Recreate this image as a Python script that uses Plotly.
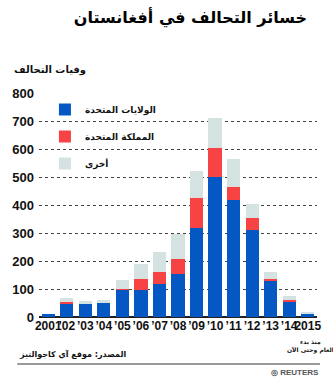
import plotly.graph_objects as go

years = ["2001", "’02", "’03", "’04", "’05", "’06", "’07", "’08", "’09", "’10", "’11", "’12", "’13", "’14", "2015"]
us = [12, 49, 48, 52, 99, 98, 117, 155, 317, 499, 418, 310, 127, 55, 12]
uk = [0, 3, 0, 1, 1, 39, 42, 51, 108, 103, 46, 44, 9, 6, 2]
other = [0, 17, 10, 7, 31, 54, 73, 89, 96, 109, 102, 48, 25, 14, 3]
yticks = [0, 100, 200, 300, 400, 500, 600, 700, 800]

names = ["الولايات المتحدة", "المملكة المتحدة", "أخرى"]
colors = ["#0558C4", "#F74343", "#D5E2E2"]

AR = "DejaVu Sans"
NUM = "Liberation Sans"

W, H = 333, 378
L, R, T, B = 37, 15, 93, 61
pw, ph = W - L - R, H - T - B


def px(x):
    return (x - L) / pw


def py(y):
    return (H - B - y) / ph


fig = go.Figure()
for name, vals, col in zip(names, [us, uk, other], colors):
    fig.add_trace(go.Bar(
        x=years, y=vals, name=name, marker=dict(color=col, line=dict(width=0)),
        legendgroup=name, hoverinfo="skip",
    ))

fig.update_layout(
    width=W, height=H,
    margin=dict(l=L, r=R, t=T, b=B),
    paper_bgcolor="white", plot_bgcolor="white",
    barmode="stack", bargap=0.29,
    showlegend=True,
    legend=dict(
        x=px(43), y=py(95), xanchor="left", yanchor="top",
        bgcolor="rgba(0,0,0,0)", traceorder="grouped", tracegroupgap=8,
        font=dict(family=AR, size=9, color="#111", weight="bold"),
        itemclick=False,
    ),
    title=dict(
        text="خسائر التحالف في أفغانستان", xref="paper", yref="container",
        x=px(308), xanchor="right", y=1 - 17 / H, yanchor="middle",
        font=dict(family=AR, size=16, color="#000", weight="bold"),
    ),
    xaxis=dict(
        type="category", tickmode="array", tickvals=years, ticktext=years,
        tickangle=0, showgrid=False, ticks="",
        tickfont=dict(family=NUM, size=12, color="#111", weight="bold"),
        showline=False, fixedrange=True,
    ),
    yaxis=dict(
        range=[0, 800], tickmode="array", tickvals=yticks,
        showgrid=True, gridcolor="#444", griddash="dot", gridwidth=1,
        zeroline=True, zerolinecolor="#222", zerolinewidth=1.5,
        tickfont=dict(family=NUM, size=13, color="#111", weight="bold"),
        ticks="", ticklabelstandoff=4, fixedrange=True,
    ),
)

fig.add_annotation(
    text="وفيات التحالف", xref="paper", yref="paper",
    x=px(10), y=py(70), xanchor="left", yanchor="middle", showarrow=False,
    font=dict(family=AR, size=10, color="#111", weight="bold"),
)
fig.add_annotation(
    text="منذ بدء<br>العام وحتى الآن", xref="paper", yref="paper",
    x=px(311), y=py(346), xanchor="center", yanchor="middle", showarrow=False,
    align="center",
    font=dict(family=AR, size=6, color="#111", weight="bold"),
)
fig.add_annotation(
    text="المصدر: موقع آي كاجوالتيز", xref="paper", yref="paper",
    x=px(15), y=py(354), xanchor="left", yanchor="middle", showarrow=False,
    font=dict(family=AR, size=8, color="#111", weight="bold"),
)
fig.add_shape(
    type="line", xref="paper", yref="paper",
    x0=px(15), x1=px(321), y0=py(364), y1=py(364),
    line=dict(color="#333", width=1),
)
fig.add_annotation(
    text="◎ REUTERS", xref="paper", yref="paper",
    x=px(322), y=py(372), xanchor="right", yanchor="middle", showarrow=False,
    font=dict(family=NUM, size=8, color="#555", weight="bold"),
)

fig.write_html("out.html")
